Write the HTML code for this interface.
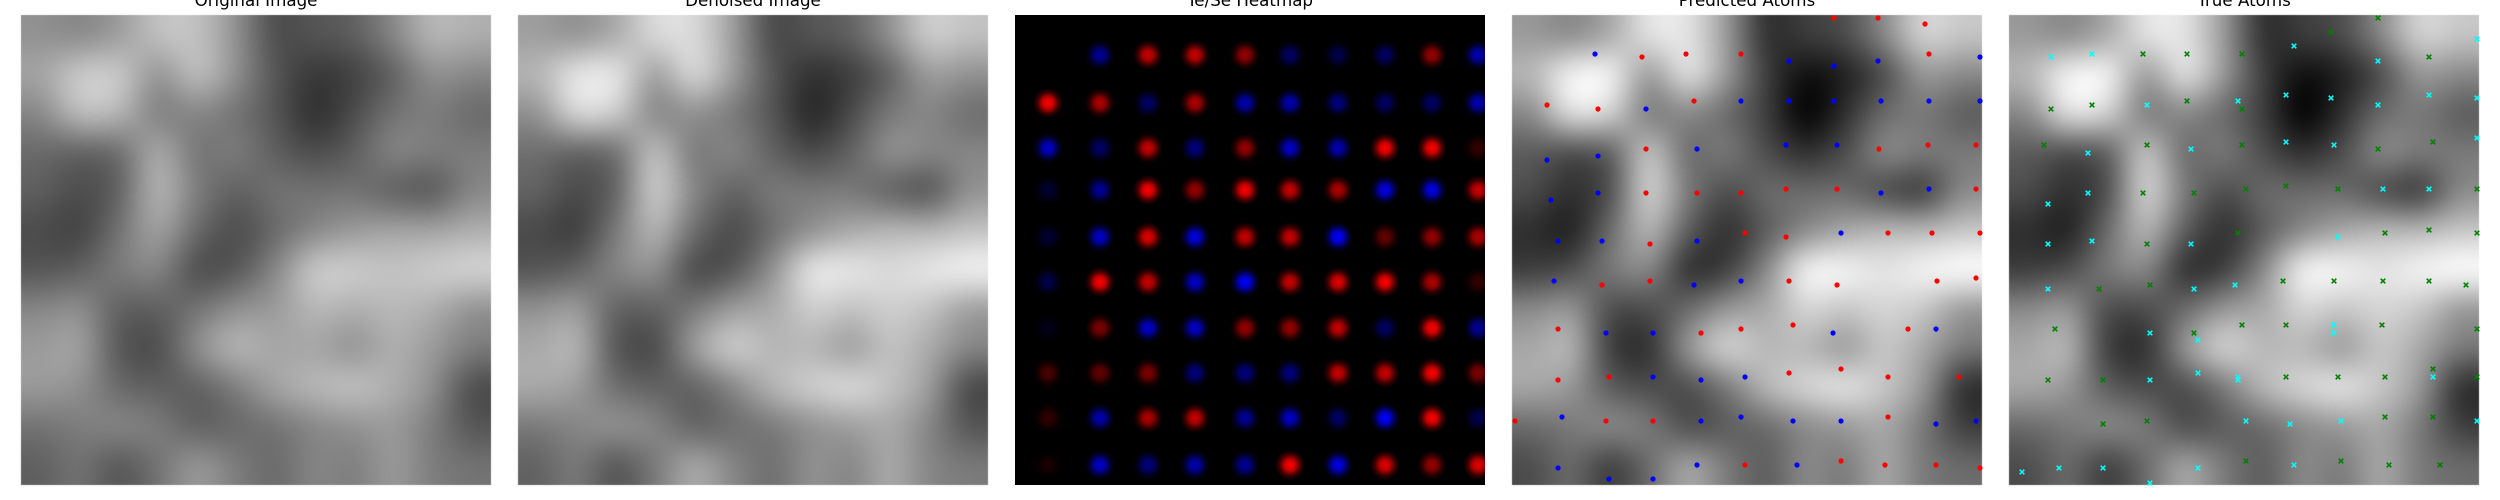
<!DOCTYPE html>
<html><head><meta charset="utf-8">
<style>
html,body{margin:0;padding:0;background:#fff;width:2500px;height:500px;overflow:hidden;position:relative}
canvas,svg{display:block;position:absolute;left:0;top:0}
svg{overflow:hidden}
text{font-family:"DejaVu Sans","Liberation Sans",sans-serif;font-size:16.7px;fill:#000}
</style></head>
<body>
<canvas id="cv" width="2500" height="500"></canvas>
<svg id="fig" width="2500" height="500" viewBox="0 0 2500 500" xmlns="http://www.w3.org/2000/svg">
<defs>
<radialGradient id="gr"><stop offset="0" stop-color="#ff0000"/><stop offset="0.35" stop-color="#ff0000" stop-opacity="0.8"/><stop offset="0.7" stop-color="#ff0000" stop-opacity="0.25"/><stop offset="1" stop-color="#ff0000" stop-opacity="0"/></radialGradient>
<radialGradient id="gb"><stop offset="0" stop-color="#0000ff"/><stop offset="0.35" stop-color="#0000ff" stop-opacity="0.8"/><stop offset="0.7" stop-color="#0000ff" stop-opacity="0.25"/><stop offset="1" stop-color="#0000ff" stop-opacity="0"/></radialGradient>
<clipPath id="c2"><rect x="1015" y="15" width="470" height="470"/></clipPath>
</defs>
</svg>
<script>
// Denoised intensity grid (12x12, 0..1)
const grayRows = [
[.6,.55,.65,.85,.85,.6,.25,.3,.35,.55,.8,.75],
[.7,.9,.9,.6,.85,.6,.3,.15,.2,.35,.6,.55],
[.55,.85,.8,.5,.55,.45,.3,.1,.25,.45,.5,.4],
[.4,.35,.4,.75,.45,.5,.35,.25,.35,.55,.5,.5],
[.35,.25,.35,.8,.5,.35,.45,.45,.45,.35,.3,.55],
[.25,.2,.45,.7,.4,.25,.4,.55,.65,.7,.7,.75],
[.3,.35,.5,.55,.25,.3,.55,.9,.9,.85,.9,.95],
[.55,.6,.35,.35,.45,.6,.65,.8,.75,.8,.75,.6],
[.65,.7,.3,.25,.6,.8,.7,.7,.6,.75,.65,.5],
[.65,.6,.4,.35,.35,.5,.7,.8,.85,.75,.6,.25],
[.45,.5,.55,.5,.35,.4,.45,.55,.6,.65,.5,.3],
[.35,.45,.3,.45,.65,.5,.4,.55,.5,.65,.5,.45]
];
// Te/Se heatmap: + = Te (red), - = Se (blue)
const heatRowsY = [40,88,133,175,222,267,313,358,403,450];
const heatColsX = [33,85,133,180,230,275,323,370,417,463];
const heatValues = [
[0,-.6,.8,.8,.6,-.4,-.3,-.4,.6,-.7],
[1,.7,-.4,.7,-.7,-.7,-.5,-.4,-.4,-.7],
[-.8,-.4,.8,-.5,.6,-.8,-.7,1,1,.2],
[-.2,-.6,1,.6,1,.8,.7,-.9,-.9,.8],
[-.2,-.8,.9,-.9,.8,.8,-1,.4,.6,.7],
[-.3,1,.8,-.8,-1,.8,.9,1,.7,.2],
[-.1,.5,-.8,-.8,.6,.6,.8,-.4,1,-.6],
[.3,.4,.5,-.5,-.5,-.5,.8,.8,1,.5],
[.2,-.7,.7,.8,-.6,-.8,-.4,-1,1,-.3],
[.1,-.8,-.5,-.7,-.6,1,-.9,.9,.6,.9]
];
// Predicted atoms (image px units 0..470)
const predTeX = [322,366,413,130,174,229,417,35,86,182,416,134,367,464,134,185,229,274,325,464,138,233,274,376,420,468,90,138,277,325,425,464,46,189,229,281,396,46,97,277,329,376,447,3,94,141,376,233,329,373,424,468];
const predTeY = [3,3,9,42,39,39,39,90,94,86,130,134,134,130,178,178,178,174,174,174,229,218,222,218,218,218,270,266,266,270,266,263,314,318,314,310,314,365,362,358,354,362,362,406,406,406,402,450,446,450,450,453];
const predSeX = [83,277,322,366,468,134,229,277,322,369,417,468,185,274,325,35,86,39,86,369,417,46,90,185,329,42,182,229,94,141,321,424,141,189,233,50,189,229,281,329,424,464,46,97,141,185,285];
const predSeY = [39,46,51,46,42,94,86,86,86,86,86,86,134,130,130,145,141,185,178,178,174,226,226,226,218,266,270,266,318,318,318,314,362,365,362,402,406,402,406,406,409,406,453,464,464,450,450];
// True atoms
const trueGX = [369,322,134,178,233,420,42,83,178,233,35,138,233,369,424,134,185,237,277,329,468,138,229,376,420,468,90,141,274,325,374,420,457,46,185,233,277,373,468,39,94,277,329,376,424,468,94,138,376,424,237,332,380,431];
const trueGY = [3,17,39,39,39,42,94,90,86,94,130,130,130,134,127,178,178,174,171,174,174,229,218,218,215,218,274,270,266,266,266,266,270,314,318,310,310,310,314,365,365,362,362,362,354,362,409,406,402,402,446,446,450,450];
const trueCX = [285,468,42,83,369,138,229,277,322,369,420,468,79,182,277,325,468,39,79,374,420,39,83,182,329,39,185,226,325,141,189,229,325,424,141,189,229,237,281,332,468,13,50,94,141,189,285];
const trueCY = [31,24,42,39,46,90,86,80,83,90,80,83,138,134,127,130,123,189,178,174,174,229,226,229,222,274,274,270,310,318,325,362,318,362,365,358,365,406,409,406,406,457,453,453,468,453,450];

const svg = document.getElementById('fig');
const NS = 'http://www.w3.org/2000/svg';
const panelX = [21,518,1015,1512,2009], panelY = 15, S = 470;
const titles = ['Original Image','Denoised Image','Te/Se Heatmap','Predicted Atoms','True Atoms'];
const panelNames = ['original-image-panel','denoised-image-panel','heatmap-panel','predicted-atoms-panel','true-atoms-panel'];
function mk(tag, attrs, parent){const e=document.createElementNS(NS,tag);for(const k in attrs)e.setAttribute(k,attrs[k]);parent.appendChild(e);return e;}
function xs(p,v){return panelX[p]+v*S/470;}
function ys(v){return panelY+v*S/470;}
const ctx = document.getElementById('cv').getContext('2d');
function grayImage(p, map, blurPx){
  const n = grayRows.length, pad = 2, m = n+2*pad, c = S/n;
  const small = document.createElement('canvas');
  small.width = m; small.height = m;
  const sc = small.getContext('2d');
  const img = sc.createImageData(m,m);
  for(let i=0;i<m;i++) for(let j=0;j<m;j++){
    const ii=Math.max(0,Math.min(n-1,i-pad)), jj=Math.max(0,Math.min(n-1,j-pad));
    const gv = Math.round(255*Math.max(0,Math.min(1,map(grayRows[ii][jj]))));
    const k=(i*m+j)*4; img.data[k]=gv; img.data[k+1]=gv; img.data[k+2]=gv; img.data[k+3]=255;
  }
  sc.putImageData(img,0,0);
  ctx.save();
  ctx.beginPath(); ctx.rect(panelX[p],panelY,S,S); ctx.clip();
  ctx.imageSmoothingEnabled = true;
  ctx.imageSmoothingQuality = 'high';
  ctx.filter = 'blur('+blurPx+'px)';
  ctx.drawImage(small, panelX[p]-pad*c, panelY-pad*c, m*c, m*c);
  ctx.restore();
}
grayImage(0, v=>0.1+0.78*v, 10);
grayImage(1, v=>0.05+0.95*v, 8);
grayImage(3, v=>(v-0.1)*1.2, 8);
grayImage(4, v=>(v-0.1)*1.2, 8);
// heatmap
const hg = mk('g',{'clip-path':'url(#c2)'},svg);


const bg = mk('rect',{x:panelX[2],y:panelY,width:S,height:S,fill:'#000'},hg);


heatValues.forEach((row,i)=>row.forEach((v,j)=>{
  if(v===0) return;
  const c = mk('circle',{cx:xs(2,heatColsX[j]),cy:ys(heatRowsY[i]),r:15,fill:v>0?'url(#gr)':'url(#gb)',opacity:Math.abs(v)},hg);
  
  
}));
function dots(X,Y,color,name){
  X.forEach((x,i)=>{
    const c = mk('circle',{cx:xs(3,x),cy:ys(Y[i]),r:2.6,fill:color},svg);
    
    
  });
}
dots(predTeX,predTeY,'#ff0000','predicted-te-atom');
dots(predSeX,predSeY,'#0000ff','predicted-se-atom');
function crosses(X,Y,color,name){
  X.forEach((x,i)=>{
    const cx=xs(4,x), cy=ys(Y[i]), d=2.3;
    const p = mk('path',{d:`M${cx-d},${cy-d}L${cx+d},${cy+d}M${cx-d},${cy+d}L${cx+d},${cy-d}`,stroke:color,'stroke-width':1.6,fill:'none'},svg);
    
    
  });
}
crosses(trueGX,trueGY,'#008000','true-te-atom');
crosses(trueCX,trueCY,'#00ffff','true-se-atom');
// titles
titles.forEach((t,p)=>{
  const tx = mk('text',{x:panelX[p]+S/2,y:6,'text-anchor':'middle'},svg);
  tx.textContent = t;
  
  
});
</script>
</body></html>
